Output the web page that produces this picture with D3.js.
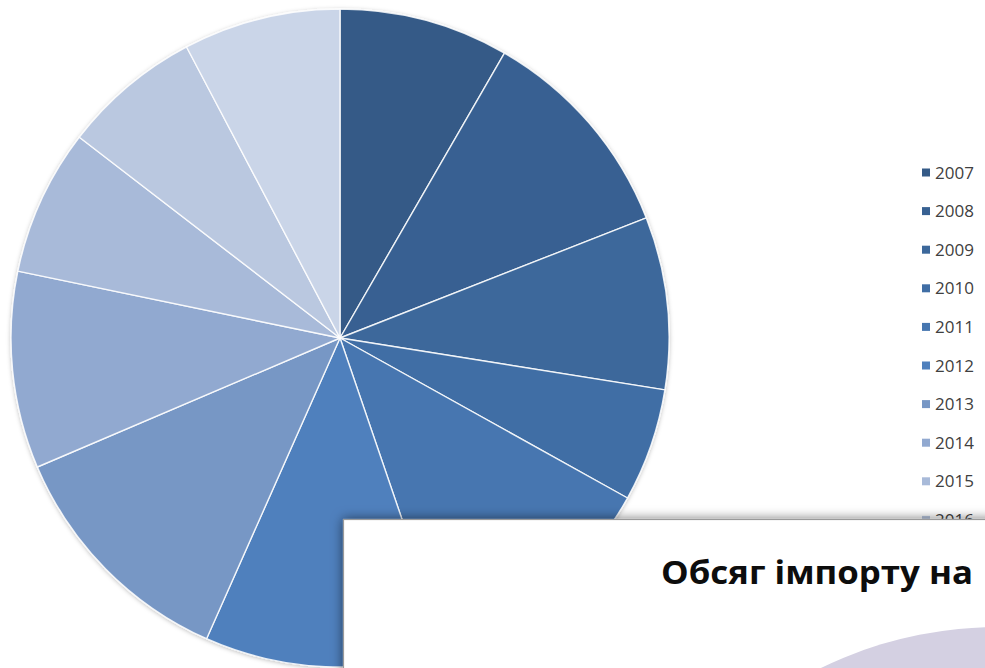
<!DOCTYPE html>
<html>
<head>
<meta charset="utf-8">
<script src="https://cdn.jsdelivr.net/npm/d3@7"></script>
<style>
  html, body { margin: 0; padding: 0; background: #fff; overflow: hidden; }
  svg { display: block; }
</style>
</head>
<body>
<div id="chart"></div>
<script>
// dane - roky i podil (v %), zcitano z obrazku
const years  = ["2007","2008","2009","2010","2011","2012","2013","2014","2015","2016","2017"];
const values = [8.33, 10.72, 8.47, 5.56, 11.67, 11.89, 11.94, 9.67, 7.19, 6.83, 7.72];
const colors = ["#345a87","#386192","#3c689b","#406ea5","#4676b0","#4f80bd",
                "#7797c5","#91a9d0","#a8bad9","#bac8e0","#cad5e8"];
const title2 = "Обсяг імпорту на";

const W = 985, H = 668;
const boxTop = 519.5;

const svg = d3.select("#chart").append("svg")
    .attr("width", W)
    .attr("height", H);

const defs = svg.append("defs");
defs.append("filter").attr("id", "pieShadow")
    .attr("x", "-10%").attr("y", "-10%").attr("width", "120%").attr("height", "120%")
  .append("feDropShadow")
    .attr("dx", 0).attr("dy", 1).attr("stdDeviation", 2)
    .attr("flood-color", "#000").attr("flood-opacity", 0.25);
defs.append("filter").attr("id", "boxShadow")
    .attr("x", "-10%").attr("y", "-20%").attr("width", "120%").attr("height", "140%")
  .append("feDropShadow")
    .attr("dx", 0).attr("dy", 0).attr("stdDeviation", 6)
    .attr("flood-color", "#000").attr("flood-opacity", 0.55);
defs.append("clipPath").attr("id", "legendClip")
  .append("rect")
    .attr("x", 0).attr("y", 0).attr("width", W).attr("height", boxTop);

// kolacovy graf
const cx = 340, cy = 338, r = 329;

const data = years.map((y, i) => ({year: y, value: values[i]}));

const color = d3.scaleOrdinal()
    .domain(years)
    .range(colors);

const pie = d3.pie()
    .sort(null)
    .value(d => d.value);

const arc = d3.arc()
    .innerRadius(0)
    .outerRadius(r);

const g = svg.append("g")
    .attr("transform", `translate(${cx}, ${cy})`)
    .attr("filter", "url(#pieShadow)");

g.selectAll("path")
    .data(pie(data))
    .enter()
    .append("path")
    .attr("d", arc)
    .attr("fill", d => color(d.data.year))
    .attr("stroke", "#ffffff")
    .attr("stroke-opacity", 0.85)
    .attr("stroke-width", 1.4)
    .attr("stroke-linejoin", "round");

// legenda (to, co je pod prekryvajicim oknem, neni videt)
const legendY = d3.scalePoint()
    .domain(years)
    .range([172.5, 172.5 + 38.6 * (years.length - 1)]);

const shown = years.filter(d => legendY(d) - 8 < boxTop);

const legend = svg.append("g")
    .attr("clip-path", "url(#legendClip)")
    .attr("font-family", "'Open Sans', 'Liberation Sans', sans-serif")
    .attr("font-size", 17)
    .attr("fill", "#404040");

const item = legend.selectAll("g.item")
    .data(shown)
    .enter()
    .append("g")
    .attr("class", "item")
    .attr("transform", d => `translate(922, ${legendY(d)})`);

item.append("rect")
    .attr("x", 0)
    .attr("y", -4)
    .attr("width", 8)
    .attr("height", 8)
    .attr("fill", d => color(d));

item.append("text")
    .attr("x", 13)
    .attr("y", 0)
    .attr("dy", "0.36em")
    .text(d => d);

// druhy slajd prekryva obrazek vpravo dole
const box = svg.append("g");

box.append("rect")
    .attr("x", 343.5)
    .attr("y", boxTop)
    .attr("width", W)
    .attr("height", 300)
    .attr("fill", "#ffffff")
    .attr("stroke", "#9a9a9a")
    .attr("stroke-width", 1.2)
    .attr("filter", "url(#boxShadow)");

box.append("circle")
    .attr("cx", 998)
    .attr("cy", 1030)
    .attr("r", 403)
    .attr("fill", "#d4d0e2");

box.append("text")
    .attr("x", 661)
    .attr("y", 584)
    .attr("font-family", "'Open Sans', 'Liberation Sans', sans-serif")
    .attr("font-weight", 700)
    .attr("font-size", 33)
    .attr("fill", "#0d0d0d")
    .attr("textLength", 312)
    .attr("lengthAdjust", "spacingAndGlyphs")
    .text(title2);
</script>
</body>
</html>
